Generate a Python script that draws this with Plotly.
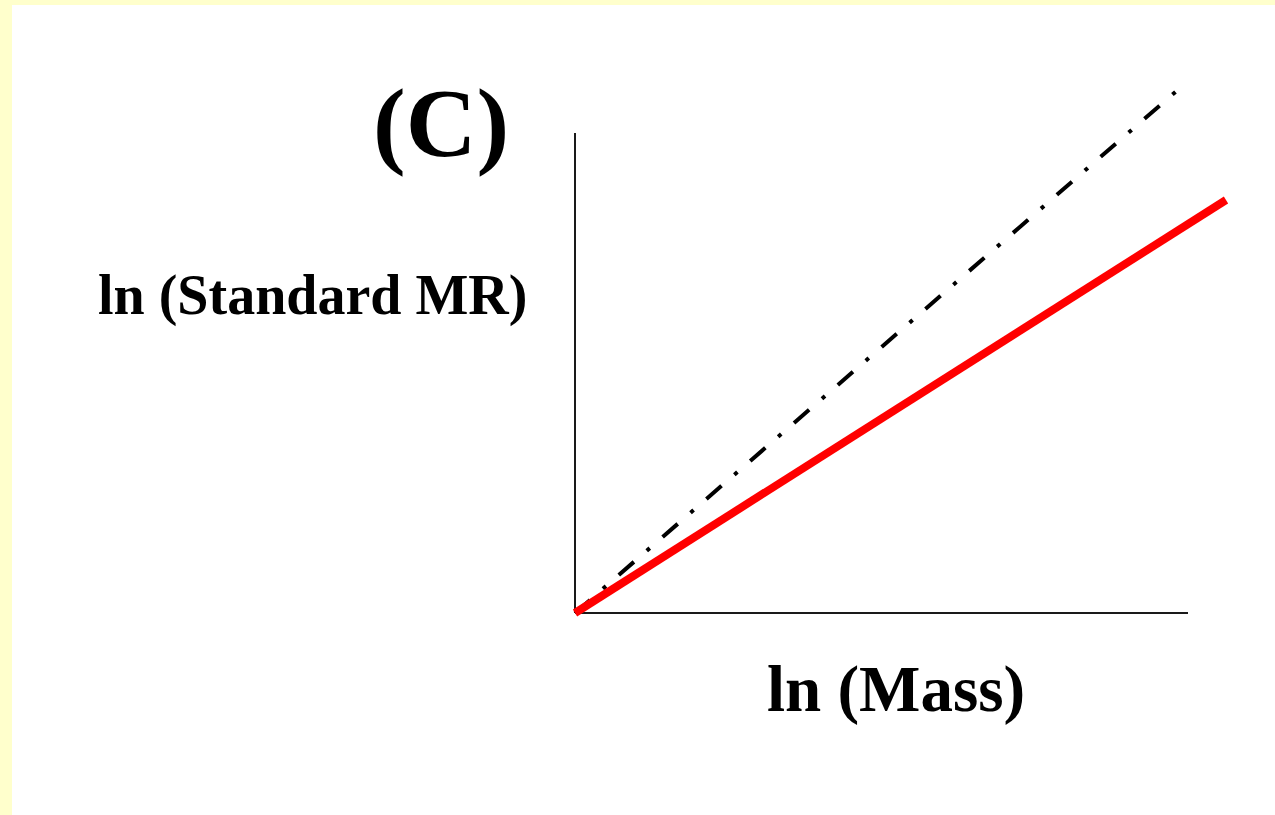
import plotly.graph_objects as go

# Data (conceptual ln-ln units)
ln_mass_red = [0, 651]
ln_mr_red = [0, 413]
ln_mass_ref = [0, 605]
ln_mr_ref = [0, 525]
xaxis_x = [0, 613]
xaxis_y = [0, 0]
yaxis_x = [0, 0]
yaxis_y = [0, 480]

W, H = 1275, 815
L, R, T, B = 565, 0, 70, 190


def px(xp):
    return (xp - L) / (W - L - R)


def py(yp):
    return (H - B - yp) / (H - T - B)


fig = go.Figure()
fig.add_trace(go.Scatter(x=xaxis_x, y=xaxis_y, mode="lines",
                         line=dict(color="#1a1a1a", width=2), hoverinfo="skip"))
fig.add_trace(go.Scatter(x=yaxis_x, y=yaxis_y, mode="lines",
                         line=dict(color="#1a1a1a", width=2), hoverinfo="skip"))
fig.add_trace(go.Scatter(x=ln_mass_ref, y=ln_mr_ref, mode="lines",
                         line=dict(color="black", width=4, dash="20px,17px,4px,17px"),
                         hoverinfo="skip"))
fig.add_trace(go.Scatter(x=ln_mass_red, y=ln_mr_red, mode="lines",
                         line=dict(color="#FF0000", width=8), hoverinfo="skip"))

font_family = "Liberation Serif"
fig.add_annotation(text="<b>(C)</b>", xref="paper", yref="paper", x=px(441), y=py(123),
                   xanchor="center", yanchor="middle", showarrow=False,
                   font=dict(family=font_family, size=98, color="black"))
fig.add_annotation(text="<b>ln (Standard MR)</b>", xref="paper", yref="paper", x=px(312), y=py(295),
                   xanchor="center", yanchor="middle", showarrow=False,
                   font=dict(family=font_family, size=56, color="black"))
fig.add_annotation(text="<b>ln (Mass)</b>", xref="paper", yref="paper", x=px(896), y=py(689),
                   xanchor="center", yanchor="middle", showarrow=False,
                   font=dict(family=font_family, size=65, color="black"))

fig.add_shape(type="rect", xref="paper", yref="paper", x0=px(12), x1=px(1290), y0=py(830), y1=py(5),
              fillcolor="white", line=dict(width=0), layer="below")

fig.update_layout(
    width=W, height=H,
    margin=dict(l=L, r=R, t=T, b=B, pad=0),
    paper_bgcolor="#FFFFCC", plot_bgcolor="rgba(0,0,0,0)",
    showlegend=False,
    xaxis=dict(range=[-10, 700], visible=False, fixedrange=True),
    yaxis=dict(range=[-12, 543], visible=False, fixedrange=True),
)
fig.write_html("out.html", config=dict(displayModeBar=False))
